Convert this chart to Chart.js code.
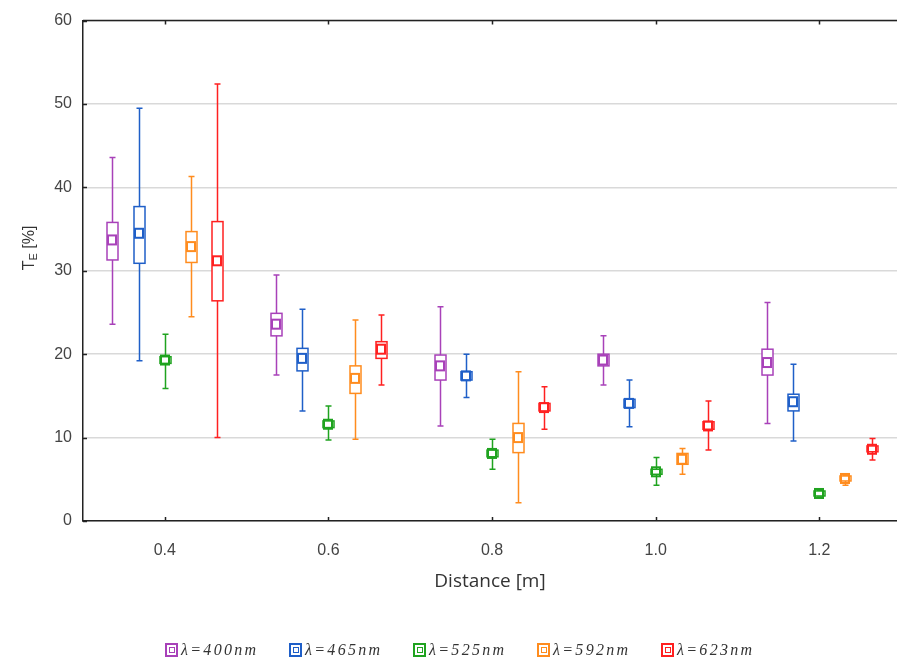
<!DOCTYPE html>
<html><head><meta charset="utf-8">
<script src="https://cdn.jsdelivr.net/npm/chart.js@4.4.0/dist/chart.umd.min.js"></script>
<style>
html,body{margin:0;padding:0;background:#fff;}
#wrap{position:relative;width:897px;height:662px;overflow:hidden;}
#c{position:absolute;left:0;top:0;}
#legend{position:absolute;left:165px;top:640px;height:20px;display:flex;}
.item{width:124px;display:flex;align-items:center;font-family:'Liberation Serif',serif;font-style:italic;font-size:16px;letter-spacing:2.3px;color:#333;white-space:nowrap;}
.ico{box-sizing:border-box;width:13px;height:14px;border:2px solid;margin-right:3px;display:flex;align-items:center;justify-content:center;flex:none;}
.ico span{box-sizing:border-box;width:6px;height:6px;border:1.5px solid;display:block;}
</style></head><body>
<div id="wrap"><canvas id="c" width="897" height="662"></canvas><div id="legend"></div></div>
<script>
// Distances (x categories, m)
const distances = [0.4, 0.6, 0.8, 1.0, 1.2];
const xTickValues = [0.4, 0.6, 0.8, 1.0, 1.2];
const yTickValues = [0, 10, 20, 30, 40, 50, 60];
const seriesNames = ['λ=400nm', 'λ=465nm', 'λ=525nm', 'λ=592nm', 'λ=623nm'];
const seriesColors = ['#A841B9', '#1F5FC8', '#1FA31F', '#FF8C1E', '#FF2020'];
const seriesOffsets = [-0.064, -0.032, 0, 0.032, 0.064];
// Each entry per distance: [min, q1, median, q3, max]  (T_E, %)
const box400 = [[23.6, 31.3, 33.7, 35.8, 43.6], [17.5, 22.2, 23.6, 24.9, 29.5], [11.4, 16.9, 18.6, 19.9, 25.7], [16.3, 18.6, 19.3, 20.0, 22.2], [11.7, 17.5, 19.0, 20.6, 26.2]];
const box465 = [[19.2, 30.9, 34.5, 37.7, 49.5], [13.2, 18.0, 19.5, 20.7, 25.4], [14.8, 16.9, 17.4, 17.9, 20.0], [11.3, 13.6, 14.1, 14.6, 16.9], [9.6, 13.2, 14.3, 15.2, 18.8]];
const box525 = [[15.9, 18.9, 19.3, 19.7, 22.4], [9.7, 11.2, 11.6, 12.0, 13.8], [6.2, 7.7, 8.1, 8.5, 9.8], [4.3, 5.6, 5.9, 6.2, 7.6], [3.0, 3.0, 3.3, 3.6, 3.7]];
const box592 = [[24.5, 31.0, 32.9, 34.7, 41.3], [9.8, 15.3, 17.1, 18.6, 24.1], [2.2, 8.2, 10.0, 11.7, 17.9], [5.6, 6.8, 7.4, 8.1, 8.7], [4.3, 4.8, 5.1, 5.4, 5.5]];
const box623 = [[10.0, 26.4, 31.2, 35.9, 52.4], [16.3, 19.5, 20.6, 21.5, 24.7], [11.0, 13.2, 13.6, 14.1, 16.1], [8.5, 11.0, 11.4, 11.9, 14.4], [7.3, 8.3, 8.6, 9.0, 9.9]];
const allBoxes = [box400, box465, box525, box592, box623];

const datasets = allBoxes.map((bx, s) => ({
  label: seriesNames[s],
  borderColor: seriesColors[s],
  backgroundColor: seriesColors[s],
  pointRadius: 0,
  data: distances.map((d, i) => ({x: d + seriesOffsets[s], y: bx[i][2], stats: bx[i]}))
}));

const boxPlugin = {
  id: 'boxes',
  afterDatasetsDraw(chart) {
    const ctx = chart.ctx, ys = chart.scales.y;
    chart.data.datasets.forEach((ds, di) => {
      const meta = chart.getDatasetMeta(di);
      meta.data.forEach((el, i) => {
        const [mn, q1, md, q3, mx] = ds.data[i].stats;
        const x = Math.round(el.x) + 0.5;
        const pMn = ys.getPixelForValue(mn), pQ1 = ys.getPixelForValue(q1), pMd = ys.getPixelForValue(md), pQ3 = ys.getPixelForValue(q3), pMx = ys.getPixelForValue(mx);
        ctx.save();
        ctx.strokeStyle = ds.borderColor;
        ctx.lineWidth = 1.5;
        ctx.beginPath();
        ctx.moveTo(x, pMn); ctx.lineTo(x, pMx);
        ctx.moveTo(x - 3, pMn); ctx.lineTo(x + 3, pMn);
        ctx.moveTo(x - 3, pMx); ctx.lineTo(x + 3, pMx);
        ctx.stroke();
        const bw = 11;
        ctx.fillStyle = '#fff';
        ctx.fillRect(x - bw / 2, pQ3, bw, pQ1 - pQ3);
        ctx.strokeRect(x - bw / 2, pQ3, bw, pQ1 - pQ3);
        ctx.lineWidth = 2;
        ctx.strokeRect(x - 4.5, pMd - 4.5, 8, 9);
        ctx.restore();
      });
    });
    // inward tick marks & top border
    const xs = chart.scales.x, a = chart.chartArea;
    ctx.save();
    ctx.strokeStyle = '#222';
    ctx.lineWidth = 1.5;
    ctx.beginPath();
    ctx.moveTo(a.left, a.top); ctx.lineTo(a.right, a.top);
    xTickValues.forEach(v => {
      const px = Math.round(xs.getPixelForValue(v)) + 0.5;
      ctx.moveTo(px, a.bottom); ctx.lineTo(px, a.bottom - 4);
      ctx.moveTo(px, a.top); ctx.lineTo(px, a.top + 4);
    });
    yTickValues.forEach(v => {
      const py = Math.round(ys.getPixelForValue(v)) + 0.5;
      ctx.moveTo(a.left, py); ctx.lineTo(a.left + 4, py);
    });
    ctx.stroke();
    // y-axis title with subscript
    ctx.translate(30, 248);
    ctx.rotate(-Math.PI / 2);
    ctx.fillStyle = '#333';
    ctx.textBaseline = 'middle';
    ctx.font = '16px "Liberation Sans", Arial, sans-serif';
    const w1 = ctx.measureText('T').width;
    ctx.font = '11px "Liberation Sans", Arial, sans-serif';
    const w2 = ctx.measureText('E').width;
    ctx.font = '16px "Liberation Sans", Arial, sans-serif';
    const w3 = ctx.measureText(' [%]').width;
    let sx = -(w1 + w2 + w3) / 2;
    ctx.textAlign = 'left';
    ctx.fillText('T', sx, 0); sx += w1;
    ctx.font = '11px "Liberation Sans", Arial, sans-serif';
    ctx.fillText('E', sx, 4); sx += w2;
    ctx.font = '16px "Liberation Sans", Arial, sans-serif';
    ctx.fillText(' [%]', sx, 0);
    ctx.restore();
  }
};

new Chart(document.getElementById('c'), {
  type: 'scatter',
  data: {datasets},
  plugins: [boxPlugin],
  options: {
    responsive: false,
    animation: false,
    devicePixelRatio: 1,
    layout: {padding: {top: 18, right: 0, left: 0, bottom: 0}},
    plugins: {legend: {display: false}, tooltip: {enabled: false}},
    scales: {
      x: {
        type: 'linear', min: 0.3, max: 1.295,
        afterBuildTicks: s => { s.ticks = xTickValues.map(v => ({value: v})); },
        afterFit: s => { s.height = 141; },
        grid: {display: false, drawTicks: false},
        border: {display: true, color: '#222', width: 1.5},
        ticks: {padding: 20, color: '#444', font: {family: '"Liberation Sans", Arial, sans-serif', size: 16}, callback: v => Number(v).toFixed(1), maxRotation: 0},
        title: {display: true, text: 'Distance [m]', color: '#333', font: {family: '"Open Sans", sans-serif', size: 19}, padding: {top: 10, bottom: 69}}
      },
      y: {
        min: 0, max: 60,
        afterBuildTicks: s => { s.ticks = yTickValues.map(v => ({value: v})); },
        afterFit: s => { s.width = 83; },
        grid: {color: '#d9d9d9', lineWidth: 1.5, drawTicks: false},
        border: {display: true, color: '#222', width: 1.5},
        ticks: {padding: 11, color: '#444', font: {family: '"Liberation Sans", Arial, sans-serif', size: 16}}
      }
    }
  }
});

const lg = document.getElementById('legend');
seriesNames.forEach((n, s) => {
  const it = document.createElement('div');
  it.className = 'item';
  it.innerHTML = '<div class="ico" style="border-color:' + seriesColors[s] + '"><span style="border-color:' + seriesColors[s] + '"></span></div>' + n;
  lg.appendChild(it);
});
</script>
</body></html>
